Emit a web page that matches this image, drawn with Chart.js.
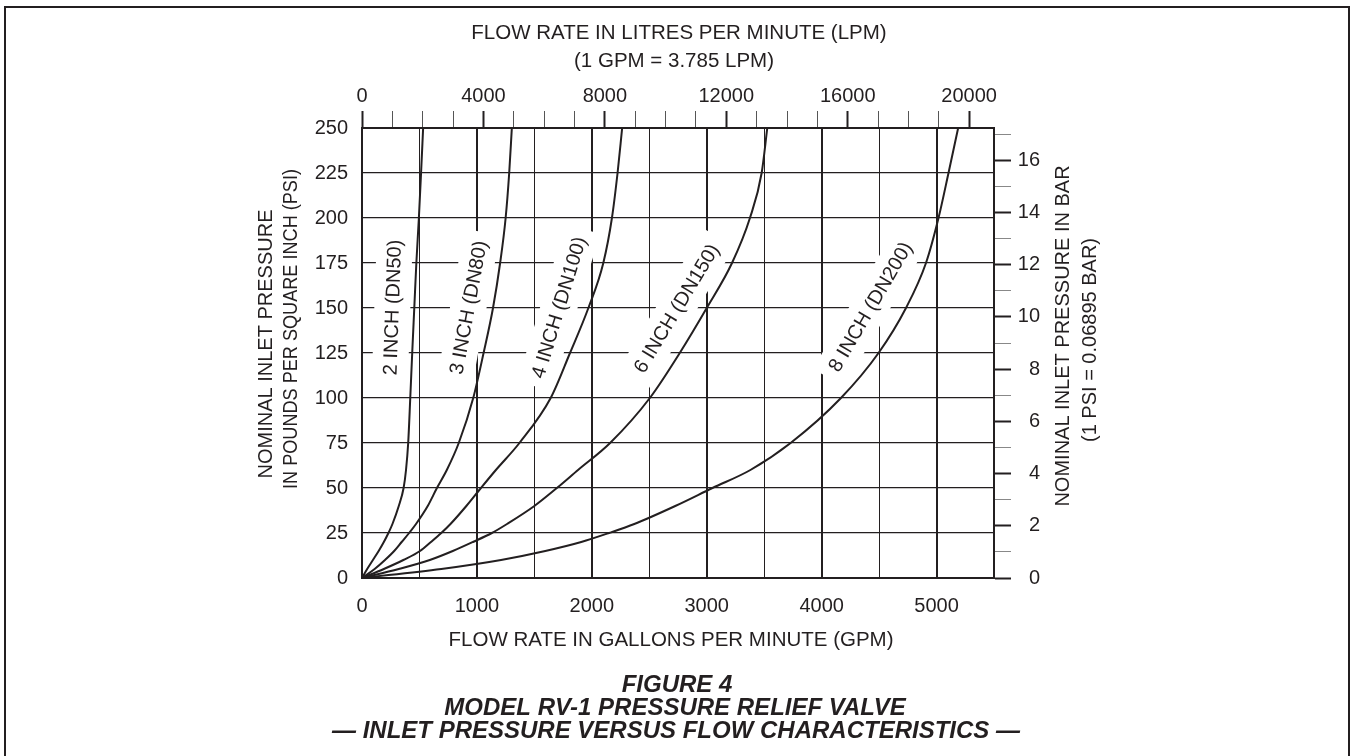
<!DOCTYPE html>
<html>
<head>
<meta charset="utf-8">
<title>RV-1 inlet pressure vs flow</title>
<script src="https://cdn.jsdelivr.net/npm/chart.js@4.4.1/dist/chart.umd.min.js"></script>
<style>
    html, body { margin: 0; padding: 0; background: #fff; }
    canvas { display: block; }
</style>
</head>
<body>
<canvas id="flowChart" width="1351" height="756"></canvas>
<script>
const pressurePsi = [0, 5, 10, 15, 20, 25, 30, 40, 50, 60, 75, 100, 125, 150, 175, 200, 225, 250];

// Flow (GPM) of each valve size at the pressures above
const flow2in = [0, 45, 95, 145, 190, 230, 265, 320, 362, 383, 402, 420, 437, 455, 473, 495, 514, 532];
const flow3in = [0, 110, 200, 280, 345, 410, 470, 572, 652, 738, 842, 968, 1058, 1140, 1202, 1250, 1281, 1304];
const flow4in = [0, 190, 360, 505, 600, 690, 770, 908, 1035, 1165, 1370, 1642, 1810, 1970, 2100, 2175, 2224, 2264];
const flow6in = [0, 320, 590, 790, 965, 1130, 1262, 1500, 1696, 1880, 2159, 2505, 2765, 3000, 3220, 3376, 3478, 3527];
const flow8in = [0, 690, 1210, 1595, 1908, 2150, 2370, 2726, 3050, 3380, 3730, 4168, 4495, 4734, 4908, 5017, 5104, 5188];

const sizeLabels = ['2 INCH (DN50)', '3 INCH (DN80)', '4 INCH (DN100)', '6 INCH (DN150)', '8 INCH (DN200)'];

// Tick labels
const gpmTickLabels = [0, 1000, 2000, 3000, 4000, 5000];
const psiTickLabels = [0, 25, 50, 75, 100, 125, 150, 175, 200, 225, 250];
const lpmTickLabels = [0, 4000, 8000, 12000, 16000, 20000];
const barTickLabels = [0, 2, 4, 6, 8, 10, 12, 14, 16];

const LPM_PER_GPM = 3.785;
const BAR_PER_PSI = 0.06895;
const GPM_MAX = 5500;
const PSI_MAX = 250;

const ink = '#231f20';
const fontFamily = "'Liberation Sans', Arial, Helvetica, sans-serif";
const axisFont = { family: fontFamily, size: 20 };

// where the size labels sit on the chart (in GPM / PSI) and their angle
const labelSpots = [
    { gpm: 264, psi: 150.3, angle: -88 },
    { gpm: 925, psi: 150.3, angle: -79.5 },
    { gpm: 1713, psi: 150.3, angle: -73 },
    { gpm: 2736, psi: 149.8, angle: -58.8 },
    { gpm: 4423, psi: 150.7, angle: -59.6 }
];

function toPoints(flows) {
    return flows.map((gpm, i) => ({ x: gpm, y: pressurePsi[i] }));
}

const curveLabels = {
    id: 'curveLabels',
    beforeDatasetsDraw(chart) {
        const { ctx } = chart;
        const x = chart.scales.x;
        const y = chart.scales.y;
        ctx.save();
        ctx.font = '20px ' + fontFamily;
        ctx.textAlign = 'center';
        ctx.textBaseline = 'middle';
        labelSpots.forEach((spot, i) => {
            const text = sizeLabels[i];
            const w = ctx.measureText(text).width;
            ctx.save();
            ctx.translate(x.getPixelForValue(spot.gpm), y.getPixelForValue(spot.psi));
            ctx.rotate(spot.angle * Math.PI / 180);
            ctx.fillStyle = '#fff';
            ctx.fillRect(-w / 2 - 9, -18, w + 18, 36);
            ctx.fillStyle = ink;
            ctx.fillText(text, 0, 1);
            ctx.restore();
        });
        ctx.restore();
    }
};

const figureText = {
    id: 'figureText',
    afterDraw(chart) {
        const { ctx } = chart;
        ctx.save();
        // outer frame (open at the bottom, as in the print)
        ctx.strokeStyle = ink;
        ctx.lineWidth = 2;
        ctx.beginPath();
        ctx.moveTo(5, 800);
        ctx.lineTo(5, 7);
        ctx.lineTo(1349, 7);
        ctx.lineTo(1349, 800);
        ctx.stroke();

        ctx.fillStyle = ink;
        ctx.textAlign = 'center';
        ctx.textBaseline = 'middle';
        ctx.font = '20.5px ' + fontFamily;
        ctx.fillText('FLOW RATE IN LITRES PER MINUTE (LPM)', 679, 33);
        ctx.fillText('(1 GPM = 3.785 LPM)', 674, 61);
        ctx.fillText('FLOW RATE IN GALLONS PER MINUTE (GPM)', 671, 640);

        // rotated title, optionally squeezed to a given length
        const vertical = (text, cx, cy, len) => {
            ctx.save();
            ctx.translate(cx, cy);
            ctx.rotate(-Math.PI / 2);
            if (len) ctx.scale(len / ctx.measureText(text).width, 1);
            ctx.fillText(text, 0, 0);
            ctx.restore();
        };
        ctx.font = '20px ' + fontFamily;
        vertical('NOMINAL INLET PRESSURE', 266, 344);
        vertical('IN POUNDS PER SQUARE INCH (PSI)', 291, 329, 320);
        vertical('NOMINAL INLET PRESSURE IN BAR', 1063, 336);
        vertical('(1 PSI = 0.06895 BAR)', 1090, 340);

        ctx.font = 'italic bold 24px ' + fontFamily;
        ctx.fillText('FIGURE 4', 677, 685);
        ctx.fillText('MODEL RV-1 PRESSURE RELIEF VALVE', 675, 708);
        ctx.fillText('\u2014 INLET PRESSURE VERSUS FLOW CHARACTERISTICS \u2014', 676, 731);
        ctx.restore();
    }
};

const lpmTickValues = [];
for (let v = 0; v <= 20000; v += 1000) lpmTickValues.push(v);
const barTickValues = [];
for (let v = 0; v <= 17; v += 1) barTickValues.push(v);

const datasets = [flow2in, flow3in, flow4in, flow6in, flow8in].map((flows, i) => ({
    label: sizeLabels[i],
    data: toPoints(flows),
    borderColor: ink,
    borderWidth: 2,
    pointRadius: 0,
    fill: false,
    cubicInterpolationMode: 'monotone'
}));

new Chart(document.getElementById('flowChart'), {
    type: 'line',
    data: { datasets: datasets },
    options: {
        responsive: false,
        animation: false,
        events: [],
        layout: { padding: { left: 302, right: 311, top: 88, bottom: 138 } },
        plugins: {
            legend: { display: false },
            tooltip: { enabled: false }
        },
        scales: {
            x: {
                type: 'linear',
                position: 'bottom',
                min: 0,
                max: GPM_MAX,
                afterFit: (s) => { s.height = 40; },
                ticks: {
                    stepSize: 500,
                    autoSkip: false,
                    maxRotation: 0,
                    padding: 16,
                    color: ink,
                    font: axisFont,
                    callback: (v) => gpmTickLabels.includes(v) ? String(v) : ''
                },
                grid: {
                    color: ink,
                    lineWidth: (c) => (c.tick && c.tick.value % 1000 === 0) ? 2 : 1,
                    drawTicks: false
                },
                border: { display: true, color: ink, width: 2 }
            },
            y: {
                type: 'linear',
                position: 'left',
                min: 0,
                max: PSI_MAX,
                afterFit: (s) => { s.width = 60; },
                ticks: {
                    stepSize: 25,
                    autoSkip: false,
                    padding: 14,
                    color: ink,
                    font: axisFont,
                    callback: (v) => psiTickLabels.includes(v) ? String(v) : ''
                },
                grid: { color: ink, lineWidth: 1.2, drawTicks: false },
                border: { display: true, color: ink, width: 2 }
            },
            x2: {
                type: 'linear',
                position: 'top',
                min: 0,
                max: GPM_MAX * LPM_PER_GPM,
                afterBuildTicks: (s) => { s.ticks = lpmTickValues.map(v => ({ value: v })); },
                afterFit: (s) => { s.height = 40; },
                ticks: {
                    autoSkip: false,
                    maxRotation: 0,
                    padding: 3,
                    color: ink,
                    font: axisFont,
                    callback: (v) => lpmTickLabels.includes(v) ? String(v) : ''
                },
                grid: {
                    drawOnChartArea: false,
                    drawTicks: true,
                    tickLength: 17,
                    tickColor: (c) => lpmTickLabels.includes(c.tick.value) ? ink : '#555',
                    tickWidth: (c) => lpmTickLabels.includes(c.tick.value) ? 2 : 1
                },
                border: { display: true, color: ink, width: 2 }
            },
            y2: {
                type: 'linear',
                position: 'right',
                min: 0,
                max: PSI_MAX * BAR_PER_PSI,
                afterBuildTicks: (s) => { s.ticks = barTickValues.map(v => ({ value: v })); },
                afterFit: (s) => { s.width = 46; },
                ticks: {
                    autoSkip: false,
                    padding: 7,
                    crossAlign: 'far',
                    color: ink,
                    font: axisFont,
                    callback: (v) => barTickLabels.includes(v) ? String(v) : ''
                },
                grid: {
                    drawOnChartArea: false,
                    drawTicks: true,
                    tickLength: 17,
                    tickColor: (c) => barTickLabels.includes(c.tick.value) ? ink : '#888',
                    tickWidth: (c) => barTickLabels.includes(c.tick.value) ? 2 : 1
                },
                border: { display: true, color: ink, width: 2 }
            }
        }
    },
    plugins: [curveLabels, figureText]
});
</script>
</body>
</html>
